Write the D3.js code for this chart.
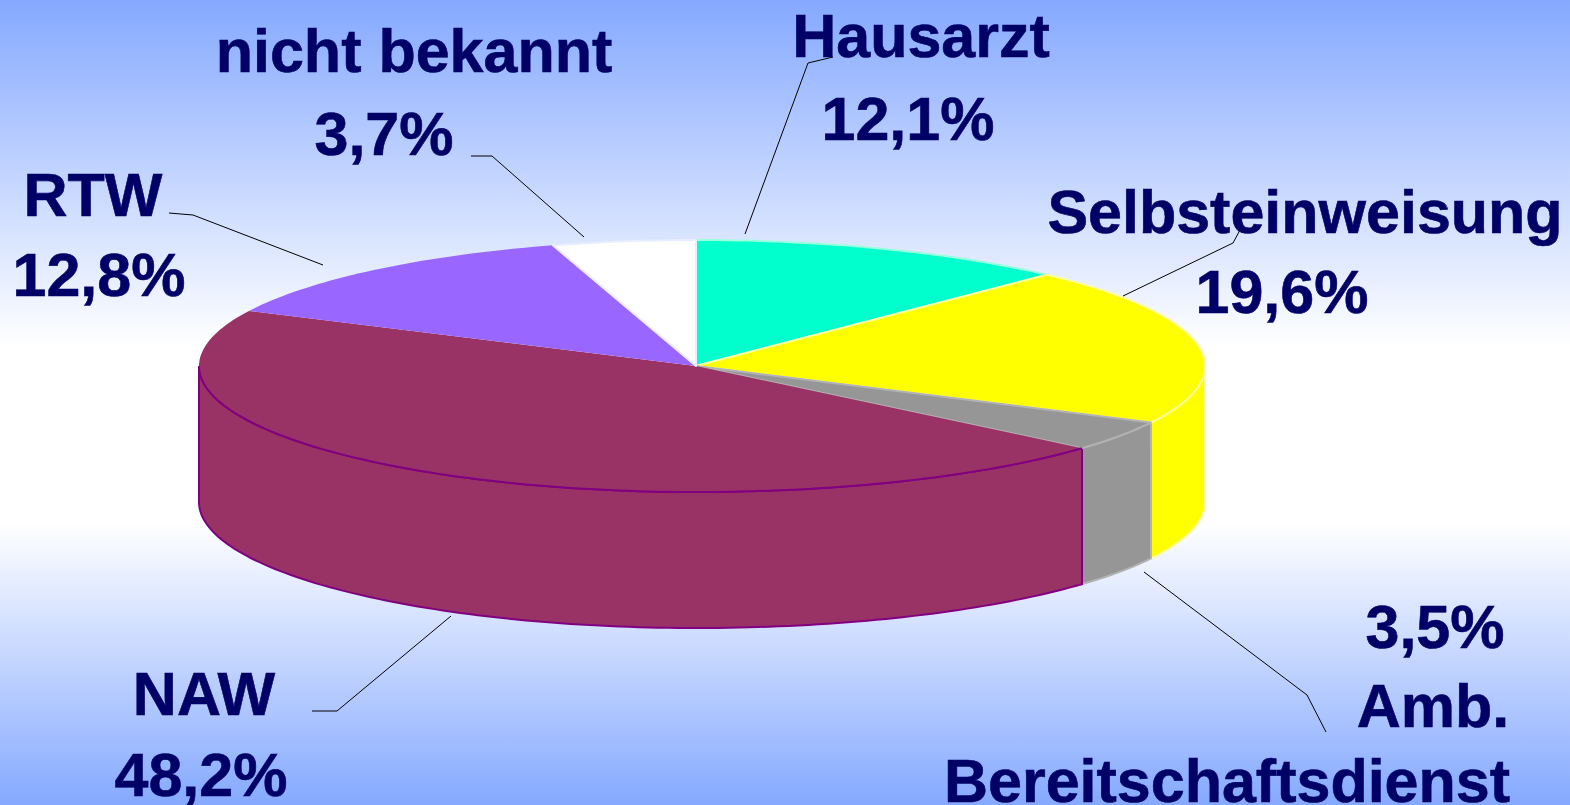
<!DOCTYPE html>
<html>
<head>
<meta charset="utf-8">
<script src="https://cdn.jsdelivr.net/npm/d3@7"></script>
<style>
	html, body { margin: 0; padding: 0; background: #fff; overflow: hidden; }
	svg { display: block; }
	text { font-family: "Liberation Sans", Arial, sans-serif; font-weight: bold; fill: #000066; stroke: #000066; stroke-width: 0.6px; }
</style>
</head>
<body>
<div id="chart"></div>
<script>
// clockwise from 12 o'clock
var categories = ["Hausarzt", "Selbsteinweisung", "Amb. Bereitschaftsdienst", "NAW", "RTW", "nicht bekannt"];
var percentLabels = ["12,1%", "19,6%", "3,5%", "48,2%", "12,8%", "3,7%"];
// slice sizes as measured on the drawn pie, the printed labels add up a bit differently
var sliceShares = [12.1, 20.3, 3.9, 45.9, 13.15, 4.65];
var sliceColors = ["#00ffcc", "#ffff00", "#969696", "#993366", "#9966ff", "#ffffff"];
var edgeColors = ["#99ffdd", "#ffff99", "#b2b2b2", "#800080", "none", "#e8eeff"];

// label lines per slice: text, centre x, baseline y
var labelLines = [
	[["Hausarzt", 921, 57], ["12,1%", 908, 140]],
	[["Selbsteinweisung", 1305, 233], ["19,6%", 1282, 313]],
	[["3,5%", 1435, 648], ["Amb.", 1433, 727], ["Bereitschaftsdienst", 1227, 802]],
	[["NAW", 204, 715], ["48,2%", 201, 796]],
	[["RTW", 93, 216], ["12,8%", 99, 296]],
	[["nicht bekannt", 414, 72], ["3,7%", 384, 155]]
];

// leader lines, same order
var leaders = [
	[[833, 57], [808, 63], [745, 234]],
	[[1240, 230], [1233, 243], [1123, 296]],
	[[1326, 732], [1307, 695], [1144, 572]],
	[[312, 711], [337, 711], [451, 616]],
	[[169, 213], [193, 215], [323, 265]],
	[[471, 156], [492, 156], [584, 237]]
];

const width = 1570;
const height = 805;
const depth = 136;
const fontSize = 61;

// the disc is not quite symmetric around the apex, so x goes through the centre stop
const xScale = d3.scaleLinear().domain([-1, 0, 1]).range([199, 696, 1205]);
const yScale = d3.scaleLinear().domain([-1, 1]).range([240, 492]);

var svg = d3.select("#chart").append("svg")
	.attr("width", width)
	.attr("height", height);

var grad = svg.append("defs").append("linearGradient")
	.attr("id", "bg")
	.attr("x1", 0).attr("y1", 0).attr("x2", 0).attr("y2", 1);
grad.append("stop").attr("offset", "0%").attr("stop-color", "#85a9ff");
grad.append("stop").attr("offset", "43%").attr("stop-color", "#ffffff");
grad.append("stop").attr("offset", "65%").attr("stop-color", "#ffffff");
grad.append("stop").attr("offset", "100%").attr("stop-color", "#85a9ff");

svg.append("rect").attr("width", width).attr("height", height).attr("fill", "url(#bg)");

var slices = d3.pie().sort(null)(sliceShares);

var line = d3.line();

function rim(a0, a1, drop) {
	var n = Math.max(2, Math.ceil((a1 - a0) / 0.02));
	return d3.range(n + 1).map(function(i) {
		var a = a0 + (a1 - a0) * i / n;
		return [xScale(Math.sin(a)), yScale(-Math.cos(a)) + drop];
	});
}

// walls, only the front half of the disc can be seen
var walls = svg.append("g");
slices.forEach(function(d, i) {
	var a0 = Math.max(d.startAngle, Math.PI / 2);
	var a1 = Math.min(d.endAngle, Math.PI * 1.5);
	if (a0 >= a1) return;
	var pts = rim(a0, a1, 0).concat(rim(a0, a1, depth).reverse());
	walls.append("path")
		.attr("d", line(pts) + "Z")
		.attr("fill", sliceColors[i])
		.attr("stroke", edgeColors[i])
		.attr("stroke-width", 2);
});

// tops
var tops = svg.append("g");
var apex = [xScale(0), yScale(0)];
slices.forEach(function(d, i) {
	var pts = [apex].concat(rim(d.startAngle, d.endAngle, 0));
	tops.append("path")
		.attr("d", line(pts) + "Z")
		.attr("fill", sliceColors[i])
		.attr("stroke", i == 3 ? "none" : edgeColors[i])
		.attr("stroke-width", 2)
		.attr("stroke-linejoin", "round");
});

// NAW gets its dark edge only along the front rim
var naw = slices[3];
tops.append("path")
	.attr("d", line(rim(naw.startAngle, Math.PI * 1.5, 0)))
	.attr("fill", "none")
	.attr("stroke", edgeColors[3])
	.attr("stroke-width", 2);

svg.append("g").selectAll("path")
	.data(leaders)
	.enter()
	.append("path")
	.attr("d", function(d) { return line(d); })
	.attr("fill", "none")
	.attr("stroke", "#000")
	.attr("stroke-width", 1);

svg.append("g").selectAll("text")
	.data(d3.merge(labelLines))
	.enter()
	.append("text")
	.attr("x", function(d) { return d[1]; })
	.attr("y", function(d) { return d[2]; })
	.attr("text-anchor", "middle")
	.style("font-size", fontSize + "px")
	.text(function(d) { return d[0]; });
</script>
</body>
</html>
